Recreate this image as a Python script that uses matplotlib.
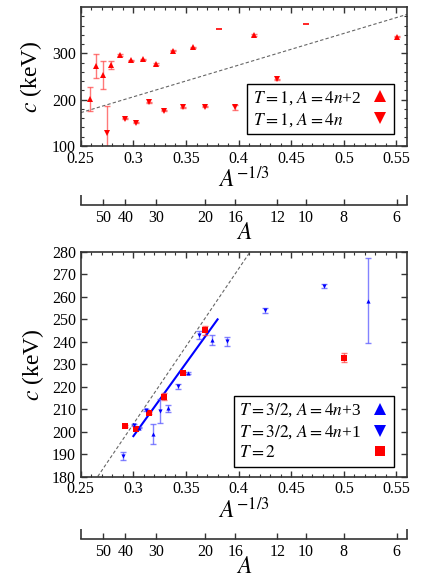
import numpy as np
import matplotlib
matplotlib.use("Agg")
import matplotlib.pyplot as plt
from matplotlib.lines import Line2D

plt.rcParams['font.family'] = ['Liberation Serif', 'DejaVu Serif']
plt.rcParams['mathtext.fontset'] = 'stix'

# ---------------- data: top panel (T = 1) ----------------
A_t1_4n2 = [6, 14, 22, 26, 30, 34, 38, 42, 46, 50, 54, 58]
c_t1_4n2 = [335.8, 339.5, 312.9, 305.6, 276.9, 287.1, 284.9, 296.3, 274.8, 253.2, 272.6, 201.4]
e_t1_4n2 = [1.0, 1.5, 1.5, 1.5, 2.5, 1.5, 1.5, 1.5, 9.3, 30.0, 25.0, 25.0]
A_t1_dash = [10, 18]
c_t1_dash = [363.2, 353.1]

A_t1_4n = [12, 16, 20, 24, 28, 32, 36, 40, 48]
c_t1_4n = [243.9, 183.5, 184.8, 183.5, 176.2, 194.3, 150.3, 158.9, 128.7]
e_t1_4n = [1.0, 5.5, 1.0, 1.0, 1.0, 1.0, 1.0, 1.0, 57.6]

top_ref_x = [0.25, 0.56]
top_ref_c = [172.0, 384.0]

# ---------------- data: bottom panel (T = 3/2, T = 2) ----------------
A_t32_4n3 = [7, 19, 23, 27, 31, 35]
c_t32_4n3 = [258.3, 240.9, 226.0, 210.3, 199.1, 201.8]
e_t32_4n3 = [18.9, 2.2, 0.4, 1.5, 4.5, 0.4]

A_t32_4n1 = [9, 13, 17, 21, 25, 29, 33, 37, 41]
c_t32_4n1 = [264.8, 254.0, 240.3, 243.1, 220.1, 209.2, 209.6, 203.0, 189.1]
e_t32_4n1 = [0.8, 1.2, 2.0, 1.8, 1.0, 5.2, 0.4, 0.4, 1.8]

A_t2 = [8, 20, 24, 28, 32, 36, 40]
c_t2 = [232.8, 245.1, 226.0, 215.5, 208.3, 201.0, 202.4]
e_t2 = [2.0, 2.0, 0.4, 1.5, 0.5, 0.5, 0.5]

fit_x = [0.300, 0.380]
fit_c = [198.0, 250.0]

bot_ref_x = [0.2661, 0.4108]
bot_ref_c = [180.0, 280.0]

A_ticks = [50, 40, 30, 20, 16, 12, 10, 8, 6]

# ---------------- figure ----------------
fig = plt.figure(figsize=(4.25, 5.78), dpi=100)
L, W = 0.1901, 0.7675
ax1 = fig.add_axes([L, 0.7474, W, 0.2405])
ax2 = fig.add_axes([L, 0.1756, W, 0.3884])

def x_of(A):
    return np.asarray(A, dtype=float) ** (-1.0 / 3.0)

red_err = (1.0, 0.25, 0.25, 0.7)
blue_err = (0.35, 0.35, 1.0, 0.75)
spine_col = '#333333'

def style(ax):
    for s in ax.spines.values():
        s.set_linewidth(1.2)
        s.set_color(spine_col)
    ax.tick_params(which='both', direction='in', top=True, right=True,
                   labelsize=11.5, color=spine_col)
    ax.tick_params(which='major', length=4.5, width=1)
    ax.tick_params(which='minor', length=2.5, width=0.8)
    ax.set_xlim(0.25, 0.56)
    ax.set_xticks([0.25, 0.3, 0.35, 0.4, 0.45, 0.5, 0.55])
    ax.set_xticklabels(['0.25', '0.3', '0.35', '0.4', '0.45', '0.5', '0.55'])
    ax.set_xticks(np.arange(0.26, 0.555, 0.01), minor=True)
    ax.set_xlabel(r'$A^{-1/3}$', fontsize=17, labelpad=0)

# ---- top panel ----
ax1.plot(top_ref_x, top_ref_c, color='#666666', lw=0.8, dashes=(3, 2))
ax1.errorbar(x_of(A_t1_4n2), c_t1_4n2, yerr=e_t1_4n2, fmt='none',
             ecolor=red_err, elinewidth=1, capsize=2.5, capthick=1)
ax1.errorbar(x_of(A_t1_4n), c_t1_4n, yerr=e_t1_4n, fmt='none',
             ecolor=red_err, elinewidth=1, capsize=2.5, capthick=1)
ax1.plot(x_of(A_t1_4n2), c_t1_4n2, '^', color='red', ms=4, mew=0)
ax1.plot(x_of(A_t1_4n), c_t1_4n, 'v', color='red', ms=4, mew=0)
ax1.plot(x_of(A_t1_dash), c_t1_dash, '_', color='red', ms=4, mew=1.2)
ax1.set_ylim(100, 400)
ax1.set_yticks([100, 200, 300])
ax1.set_yticks(np.arange(120, 400, 20), minor=True)
style(ax1)
ax1.set_ylabel(r'$c$ (keV)', fontsize=17, labelpad=6)

leg_kw = dict(loc='lower right', markerfirst=False, fontsize=12.5,
              frameon=True, fancybox=False, edgecolor='black',
              framealpha=1, borderpad=0.3, handlelength=1.0,
              handletextpad=0.6, labelspacing=0.25)

h1 = [Line2D([], [], ls='none', marker='^', color='red', ms=8, mew=0),
      Line2D([], [], ls='none', marker='v', color='red', ms=8, mew=0)]
leg1 = ax1.legend(h1, [r'$T = 1$, $A = 4n$+2', r'$T = 1$, $A = 4n$'],
                  bbox_to_anchor=(0.987, 0.025), **leg_kw)
leg1.get_frame().set_linewidth(1.0)

# ---- bottom panel ----
ax2.plot(bot_ref_x, bot_ref_c, color='#666666', lw=0.8, dashes=(3, 2))
ax2.plot(fit_x, fit_c, color='blue', lw=1.5)
ax2.errorbar(x_of(A_t2), c_t2, yerr=e_t2, fmt='none',
             ecolor=red_err, elinewidth=1, capsize=2.5, capthick=1)
ax2.errorbar(x_of(A_t32_4n3), c_t32_4n3, yerr=e_t32_4n3, fmt='none',
             ecolor=blue_err, elinewidth=1, capsize=2.5, capthick=1)
ax2.errorbar(x_of(A_t32_4n1), c_t32_4n1, yerr=e_t32_4n1, fmt='none',
             ecolor=blue_err, elinewidth=1, capsize=2.5, capthick=1)
ax2.plot(x_of(A_t2), c_t2, 's', color='red', ms=4, mew=0)
ax2.plot(x_of(A_t32_4n3), c_t32_4n3, '^', color='blue', ms=3, mew=0)
ax2.plot(x_of(A_t32_4n1), c_t32_4n1, 'v', color='blue', ms=3, mew=0)
ax2.set_ylim(180, 280)
ax2.set_yticks(np.arange(180, 281, 10))
style(ax2)
ax2.set_ylabel(r'$c$ (keV)', fontsize=17, labelpad=4)

h2 = [Line2D([], [], ls='none', marker='^', color='blue', ms=8, mew=0),
      Line2D([], [], ls='none', marker='v', color='blue', ms=8, mew=0),
      Line2D([], [], ls='none', marker='s', color='red', ms=7, mew=0)]
leg2 = ax2.legend(h2, [r'$T = 3/2$, $A = 4n$+3', r'$T = 3/2$, $A = 4n$+1', r'$T = 2$'],
                  bbox_to_anchor=(0.987, 0.005), **leg_kw)
leg2.get_frame().set_linewidth(1.0)

# ---- A axes (secondary scales below each panel) ----
def a_axis(ybot):
    sax = fig.add_axes([L, ybot, W, 0.0001])
    sax.patch.set_visible(False)
    for k in ('left', 'right', 'top'):
        sax.spines[k].set_visible(False)
    sax.spines['bottom'].set_linewidth(1.2)
    sax.spines['bottom'].set_color(spine_col)
    sax.set_xlim(0.25, 0.56)
    sax.set_yticks([])
    sax.set_xticks(x_of(A_ticks))
    sax.set_xticklabels([str(a) for a in A_ticks])
    sax.set_xticks([0.25, 0.56], minor=True)
    sax.tick_params(which='both', direction='in', labelsize=11.5, color=spine_col, pad=3.5)
    sax.tick_params(which='major', length=4, width=1)
    sax.tick_params(which='minor', length=7, width=1.2)
    sax.set_xlabel(r'$A$', fontsize=17, labelpad=-2)
    return sax

a_axis(0.6453)
a_axis(0.0675)

# left-align legend texts while keeping markers in a right column
fig.canvas.draw()
rend = fig.canvas.get_renderer()
for leg in (leg1, leg2):
    for col in leg._legend_handle_box.get_children():
        rows = col.get_children()
        wmax = max(r.get_bbox(rend).width for r in rows)
        for r in rows:
            r.mode = 'expand'
            r.width = wmax

fig.savefig('out.png', dpi=100)
